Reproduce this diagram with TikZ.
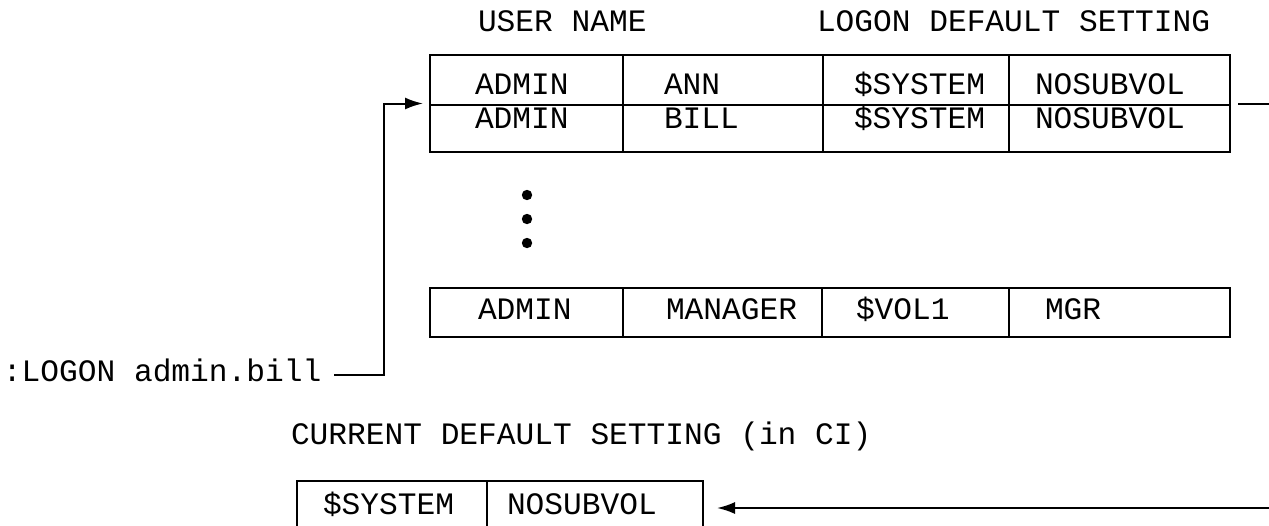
\documentclass[tikz,border=0pt]{standalone}
\usepackage{fontspec}
\setmonofont{Liberation Mono}
\usetikzlibrary{arrows.meta}

\begin{document}
\begin{tikzpicture}[x=0.5pt,y=-0.5pt,line width=1pt,
	txt/.style={font=\ttfamily\fontsize{15.6}{18}\selectfont,anchor=west,inner sep=0pt,text height=0.62em,text depth=0pt},
	frame/.style={draw,inner sep=0pt},
	arr/.style={-{Latex[length=9pt,width=6pt]}}]
	\useasboundingbox (0,0) rectangle (1269,525);
	\clip (0,0) rectangle (1269,525);
	% headings
	\node[txt] (uname) at (477,25) {USER NAME};
	\node[txt] (ldef) at (816,25) {LOGON DEFAULT SETTING};
	% user table
	\node[frame,minimum width=400pt,minimum height=48.5pt] (logtab) at (830,103.5) {};
	\draw (430,105) -- (1230,105);
	\foreach \x in {623,823,1009} \draw (\x,55) -- (\x,152);
	\foreach \t/\x [count=\i] in {ADMIN/474,ANN/663,\$SYSTEM/853,NOSUBVOL/1034}
		\node[txt] (ann\i) at (\x,88) {\t};
	\foreach \t/\x [count=\i] in {ADMIN/474,BILL/663,\$SYSTEM/853,NOSUBVOL/1034}
		\node[txt] (bill\i) at (\x,122) {\t};
	\foreach \y in {195,219,243} \fill (527,\y) circle[radius=2.6pt];
	\node[frame,minimum width=400pt,minimum height=24.5pt] (mgrtab) at (830,312.5) {};
	\foreach \x in {623,822,1009} \draw (\x,288) -- (\x,337);
	\foreach \t/\x [count=\i] in {ADMIN/477,MANAGER/665,\$VOL1/855,MGR/1044}
		\node[txt] (mgr\i) at (\x,313) {\t};
	% command
	\node[txt] (logon) at (2,375) {:LOGON admin.bill};
	\draw[arr] ([xshift=6pt]logon.east) -| ([xshift=-22.5pt]logtab.west) -- ([xshift=-3pt]logtab.west);
	% current setting
	\node[txt] (cur) at (290,438) {CURRENT DEFAULT SETTING (in CI)};
	\node[frame,minimum width=203pt,minimum height=27pt] (curtab) at (500,508) {};
	\draw (487,481) -- (487,540);
	\node[txt] (cur1) at (322,508) {\$SYSTEM};
	\node[txt] (cur2) at (506,508) {NOSUBVOL};
	\coordinate (rtop) at (1269,103.5);
	\coordinate (rbot) at (1269,508);
	\draw ([xshift=3.5pt]logtab.east) -- (rtop);
	\draw[arr] (rbot) -- ([xshift=6.5pt]curtab.east);
\end{tikzpicture}
\end{document}
